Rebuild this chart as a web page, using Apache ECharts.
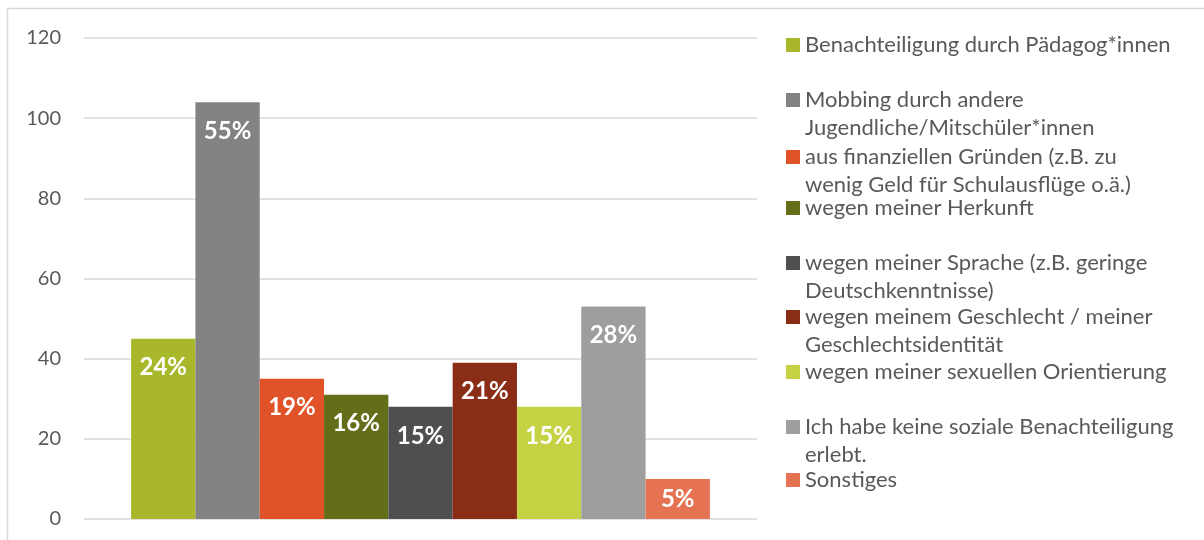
<!DOCTYPE html>
<html>
<head>
<meta charset="utf-8">
<script src="https://cdn.jsdelivr.net/npm/echarts@6/dist/echarts.min.js"></script>
<style>
  html, body { margin: 0; padding: 0; background: #fff; }
  #chart { width: 1204px; height: 540px; }
</style>
</head>
<body>
<div id="chart"></div>
<script>
// data
var names = [
  'Benachteiligung durch Pädagog*innen',
  'Mobbing durch andere\nJugendliche/Mitschüler*innen',
  'aus finanziellen Gründen (z.B. zu\nwenig Geld für Schulausflüge o.ä.)',
  'wegen meiner Herkunft',
  'wegen meiner Sprache (z.B. geringe\nDeutschkenntnisse)',
  'wegen meinem Geschlecht / meiner\nGeschlechtsidentität',
  'wegen meiner sexuellen Orientierung',
  'Ich habe keine soziale Benachteiligung\nerlebt.',
  'Sonstiges'
];
var counts = [45, 104, 35, 31, 28, 39, 28, 53, 10];
var percents = [24, 55, 19, 16, 15, 21, 15, 28, 5];
var yTicks = [0, 20, 40, 60, 80, 100, 120];

var colors = ['#A8B82A', '#838383', '#E05227', '#646D18', '#4F4F4F',
              '#8A2D16', '#C4D244', '#9E9E9E', '#E57353'];
// vertical placement of each legend entry (Excel spacing is uneven)
var legendTops = [31, 86, 143, 194, 249, 303, 358, 413, 466];

var FONT = 'Lato';
var LINE_H = 28;

var chart = echarts.init(document.getElementById('chart'));

var series = names.map(function (name, i) {
  return {
    name: name,
    type: 'bar',
    data: [counts[i]],
    barGap: '0%',
    barCategoryGap: '14%',
    itemStyle: { color: colors[i] },
    label: {
      show: true,
      position: 'insideTop',
      distance: i === 8 ? 8 : 17,
      formatter: function () { return percents[i] + '%'; },
      color: '#fff',
      fontFamily: FONT,
      fontWeight: 'bold',
      fontSize: 24
    }
  };
});

var legends = names.map(function (name, i) {
  var lines = name.split('\n').length;
  var h = lines * LINE_H;
  return {
    data: [name],
    left: 786,
    top: legendTops[i],
    orient: 'vertical',
    padding: 0,
    selectedMode: false,
    itemWidth: 14,
    itemHeight: h,
    // square sits beside the first text line
    icon: 'path://M0,7h14v14h-14z M0,0l0.01,0 M0,' + h + 'l0.01,0',
    textStyle: {
      color: '#595959',
      fontFamily: FONT,
      fontSize: 22,
      lineHeight: LINE_H
    }
  };
});

var option = {
  backgroundColor: '#fff',
  animation: false,
  graphic: [{
    type: 'rect',
    shape: { x: 7.5, y: 8.5, width: 1300, height: 600 },
    style: { fill: 'none', stroke: '#d9d9d9', lineWidth: 1.5 },
    silent: true
  }],
  legend: legends,
  grid: { left: 84, right: 447, top: 38, bottom: 21 },
  xAxis: {
    type: 'category',
    data: [''],
    axisLine: { show: false },
    axisTick: { show: false },
    axisLabel: { show: false }
  },
  yAxis: {
    type: 'value',
    min: yTicks[0],
    max: yTicks[yTicks.length - 1],
    interval: 20,
    axisLine: { show: false },
    axisTick: { show: false },
    axisLabel: {
      color: '#595959',
      fontFamily: FONT,
      fontSize: 20,
      margin: 23
    },
    splitLine: { lineStyle: { color: '#d9d9d9', width: 1.5 } }
  },
  series: series
};

chart.setOption(option);
</script>
</body>
</html>
